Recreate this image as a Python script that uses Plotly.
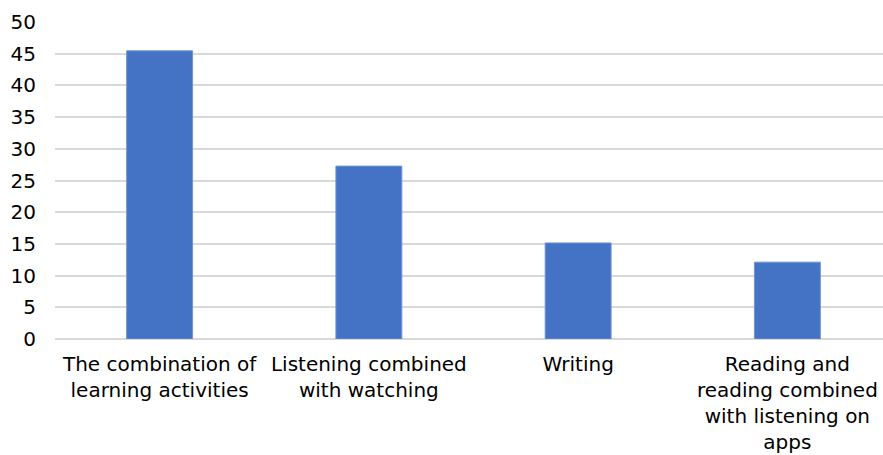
import plotly.graph_objects as go

# Share of learners by preferred learning activity (%)
categories = [
    "The combination of<br>learning activities",
    "Listening combined<br>with watching",
    "Writing",
    "Reading and<br>reading combined<br>with listening on<br>apps",
]
values = [45.45, 27.27, 15.15, 12.12]
y_ticks = [0, 5, 10, 15, 20, 25, 30, 35, 40, 45, 50]

fig = go.Figure(
    go.Bar(
        x=list(range(len(categories))),
        y=values,
        marker=dict(color="#4472c4", line=dict(color="#6f93d3", width=1)),
        width=0.315,
    )
)

font = dict(family="DejaVu Sans, Verdana, sans-serif", size=20, color="#000000")

fig.update_layout(
    width=883,
    height=455,
    margin=dict(l=55, r=0, t=22, b=116),
    paper_bgcolor="white",
    plot_bgcolor="white",
    font=font,
    showlegend=False,
    xaxis=dict(
        range=[-0.5, 3.457],
        tickvals=list(range(len(categories))),
        ticktext=categories,
        tickangle=0,
        automargin=False,
        showgrid=False,
        zeroline=False,
        showline=False,
        ticks="",
        tickfont=font,
        ticklabelstandoff=11,
    ),
    yaxis=dict(
        range=[0, 50],
        tickvals=y_ticks,
        automargin=False,
        showgrid=True,
        gridcolor="#d9d9d9",
        gridwidth=2,
        zeroline=True,
        zerolinecolor="#d9d9d9",
        zerolinewidth=2,
        ticks="",
        tickfont=font,
        ticklabelstandoff=18,
    ),
)

fig.write_html("out.html")
